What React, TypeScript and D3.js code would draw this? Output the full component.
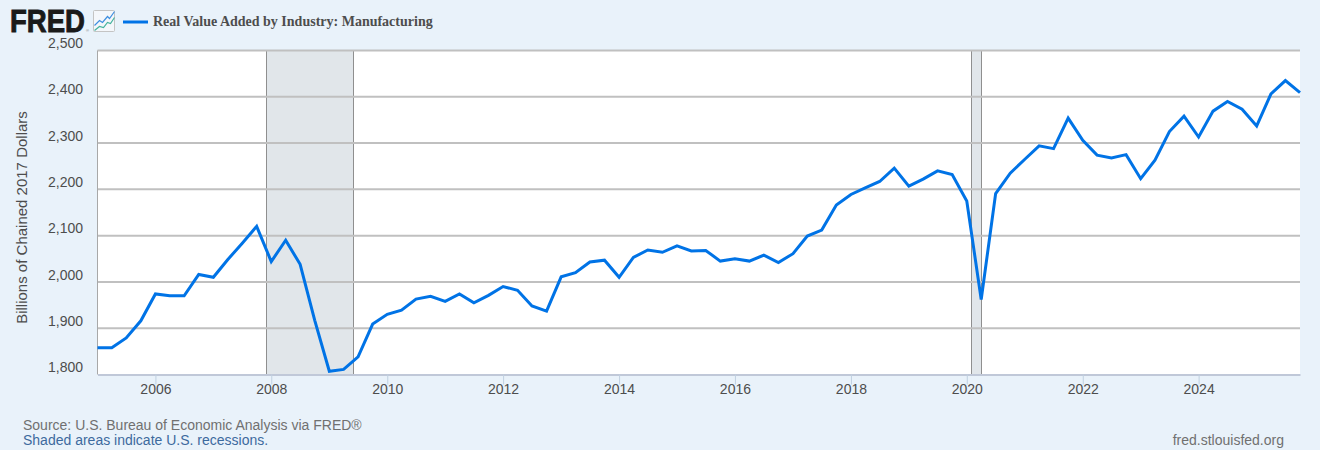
import React, { useEffect, useRef } from 'react';
import * as d3 from 'd3';

const WIDTH = 1320;
const HEIGHT = 450;

// Billions of chained 2017 dollars, one value per quarter, 2005 Q1 onward
const values2005to2009 = [
  1858, 1858, 1879, 1916,
  1974, 1970, 1970, 2016,
  2010, 2048, 2083, 2120,
  2044, 2090, 2038, 1917,
  1807, 1811, 1838, 1909,
];
const values2010to2014 = [
  1930, 1939, 1963, 1969,
  1958, 1974, 1955, 1971,
  1990, 1982, 1948, 1937,
  2011, 2020, 2043, 2047,
  2010, 2053, 2069, 2064,
];
const values2015to2019 = [
  2078, 2067, 2068, 2045,
  2050, 2045, 2058, 2042,
  2061, 2099, 2112, 2166,
  2189, 2203, 2217, 2246,
  2207, 2222, 2240, 2232,
];
const values2020to2025 = [
  2175, 1962, 2191, 2235,
  2265, 2294, 2288, 2354,
  2306, 2274, 2268, 2275,
  2223, 2263, 2325, 2358,
  2313, 2369, 2390, 2373,
  2337, 2406, 2435, 2409,
];
const values = [...values2005to2009, ...values2010to2014, ...values2015to2019, ...values2020to2025];

const yTicks = [1800, 1900, 2000, 2100, 2200, 2300, 2400, 2500];
const xTickYears = [2006, 2008, 2010, 2012, 2014, 2016, 2018, 2020, 2022, 2024];
const recessions: [Date, Date][] = [
  [new Date(2007, 11, 1), new Date(2009, 5, 1)],
  [new Date(2020, 1, 1), new Date(2020, 3, 1)],
];

const title = 'Real Value Added by Industry: Manufacturing';
const yLabel = 'Billions of Chained 2017 Dollars';

const LINE_COLOR = '#0073e6';
const SANS = '"Liberation Sans", Arial, sans-serif';

const margin = { top: 50.5, right: 20, bottom: 75.5, left: 97.5 };

const App: React.FC = () => {
  const svgRef = useRef<SVGSVGElement>(null);

  useEffect(() => {
    if (!svgRef.current) return;
    const svg = d3.select(svgRef.current);
    svg.selectAll('*').remove();

    const points = values.map((v, i) => ({ date: new Date(2005, i * 3, 1), value: v }));

    const x = d3.scaleTime()
      .domain([points[0].date, points[points.length - 1].date])
      .range([margin.left, WIDTH - margin.right]);
    const y = d3.scaleLinear()
      .domain([1800, 2500])
      .range([HEIGHT - margin.bottom, margin.top]);

    // Plot background
    svg.append('rect')
      .attr('x', margin.left)
      .attr('y', margin.top)
      .attr('width', WIDTH - margin.right - margin.left)
      .attr('height', HEIGHT - margin.bottom - margin.top)
      .attr('fill', '#ffffff');

    // Recession bands
    const bands = svg.append('g');
    recessions.forEach(([start, end]) => {
      bands.append('rect')
        .attr('x', x(start))
        .attr('y', margin.top)
        .attr('width', x(end) - x(start))
        .attr('height', HEIGHT - margin.bottom - margin.top)
        .attr('fill', '#e1e6ea');
      [start, end].forEach(d => {
        bands.append('line')
          .attr('x1', Math.floor(x(d)) + 0.5)
          .attr('x2', Math.floor(x(d)) + 0.5)
          .attr('y1', margin.top)
          .attr('y2', HEIGHT - margin.bottom)
          .attr('stroke', '#8f8f8f')
          .attr('stroke-width', 1);
      });
    });

    // Grid lines, on top of the bands
    svg.append('g')
      .selectAll('line')
      .data(yTicks.filter(d => d !== 1800))
      .enter()
      .append('line')
      .attr('x1', margin.left)
      .attr('x2', WIDTH - margin.right)
      .attr('y1', d => y(d))
      .attr('y2', d => y(d))
      .attr('stroke', '#c0c0c0')
      .attr('stroke-width', 2);

    // Left edge of the plot
    svg.append('line')
      .attr('x1', margin.left)
      .attr('x2', margin.left)
      .attr('y1', margin.top)
      .attr('y2', HEIGHT - margin.bottom)
      .attr('stroke', '#a8a8a8')
      .attr('stroke-width', 1);

    // Axes
    const xAxis = svg.append('g')
      .attr('transform', `translate(0,${HEIGHT - margin.bottom})`)
      .call(
        d3.axisBottom(x)
          .tickValues(xTickYears.map(yr => new Date(yr, 0, 1)))
          .tickSizeInner(10)
          .tickSizeOuter(0)
          .tickPadding(0)
          .tickFormat(d3.timeFormat('%Y') as any)
      );
    xAxis.select('.domain').attr('stroke', '#c0c8d8').attr('stroke-width', 2);
    xAxis.selectAll('.tick line').attr('stroke', '#c0d0e0');
    xAxis.selectAll('.tick text')
      .attr('fill', '#4d4d4d')
      .style('font-family', SANS)
      .style('font-size', '14px');

    const yAxis = svg.append('g')
      .attr('transform', `translate(${margin.left},0)`)
      .call(d3.axisLeft(y).tickValues(yTicks).tickSize(0).tickFormat(d3.format(',') as any));
    yAxis.select('.domain').remove();
    yAxis.selectAll('.tick text')
      .attr('x', -14.5)
      .attr('dy', '-0.2em')
      .attr('fill', '#4d4d4d')
      .style('font-family', SANS)
      .style('font-size', '14px');

    // Series line
    const line = d3.line<{ date: Date; value: number }>()
      .x(d => x(d.date))
      .y(d => y(d.value));
    svg.append('path')
      .datum(points)
      .attr('d', line)
      .attr('fill', 'none')
      .attr('stroke', LINE_COLOR)
      .attr('stroke-width', 3)
      .attr('stroke-linejoin', 'miter');

    // Y label
    svg.append('text')
      .attr('transform', `translate(27,217.5) rotate(-90)`)
      .attr('text-anchor', 'middle')
      .attr('fill', '#4d4d4d')
      .style('font-family', SANS)
      .style('font-size', '15px')
      .text(yLabel);

    // Logo
    svg.append('text')
      .attr('x', 10)
      .attr('y', 32)
      .attr('textLength', 75)
      .attr('lengthAdjust', 'spacingAndGlyphs')
      .attr('fill', '#1a1a1a')
      .attr('stroke', '#1a1a1a')
      .attr('stroke-width', 0.9)
      .style('font-family', SANS)
      .style('font-weight', 700)
      .style('font-size', '31px')
      .text('FRED');
    svg.append('text')
      .attr('x', 86)
      .attr('y', 32)
      .attr('fill', '#777777')
      .style('font-family', SANS)
      .style('font-size', '4px')
      .text('®');

    // Small chart icon next to the logo
    const icon = svg.append('g').attr('transform', 'translate(93.5,10.5)');
    icon.append('rect')
      .attr('width', 21)
      .attr('height', 21)
      .attr('rx', 1)
      .attr('fill', '#f4f7fb')
      .attr('stroke', '#c4c4c4');
    icon.append('path')
      .attr('d', 'M1,15 L6,10 L9,12 L14,6 L16,8 L21,1')
      .attr('fill', 'none')
      .attr('stroke', '#3f8fe0')
      .attr('stroke-width', 1.2);
    icon.append('path')
      .attr('d', 'M1,20 L6,16 L10,17 L14,12 L17,13 L21,7')
      .attr('fill', 'none')
      .attr('stroke', '#45b29d')
      .attr('stroke-width', 1.2);

    // Legend
    svg.append('line')
      .attr('x1', 123)
      .attr('x2', 148)
      .attr('y1', 22)
      .attr('y2', 22)
      .attr('stroke', LINE_COLOR)
      .attr('stroke-width', 3);
    svg.append('text')
      .attr('x', 153)
      .attr('y', 26)
      .attr('fill', '#4d4d4d')
      .style('font-family', '"Liberation Serif", "Times New Roman", serif')
      .style('font-weight', 700)
      .style('font-size', '14px')
      .text(title);

    // Footer
    svg.append('text')
      .attr('x', 23)
      .attr('y', 430)
      .attr('fill', '#707070')
      .style('font-family', SANS)
      .style('font-size', '14px')
      .text('Source: U.S. Bureau of Economic Analysis via FRED®');
    svg.append('text')
      .attr('x', 23)
      .attr('y', 445)
      .attr('fill', '#3d6a9e')
      .style('font-family', SANS)
      .style('font-size', '14px')
      .text('Shaded areas indicate U.S. recessions.');
    svg.append('text')
      .attr('x', 1284)
      .attr('y', 445)
      .attr('text-anchor', 'end')
      .attr('fill', '#707070')
      .style('font-family', SANS)
      .style('font-size', '14px')
      .text('fred.stlouisfed.org');
  }, []);

  return (
    <svg
      ref={svgRef}
      width={WIDTH}
      height={HEIGHT}
      role="img"
      aria-label={title}
      style={{ position: 'absolute', top: 0, left: 0, background: '#e9f2fa', display: 'block' }}
    />
  );
};

export default App;
